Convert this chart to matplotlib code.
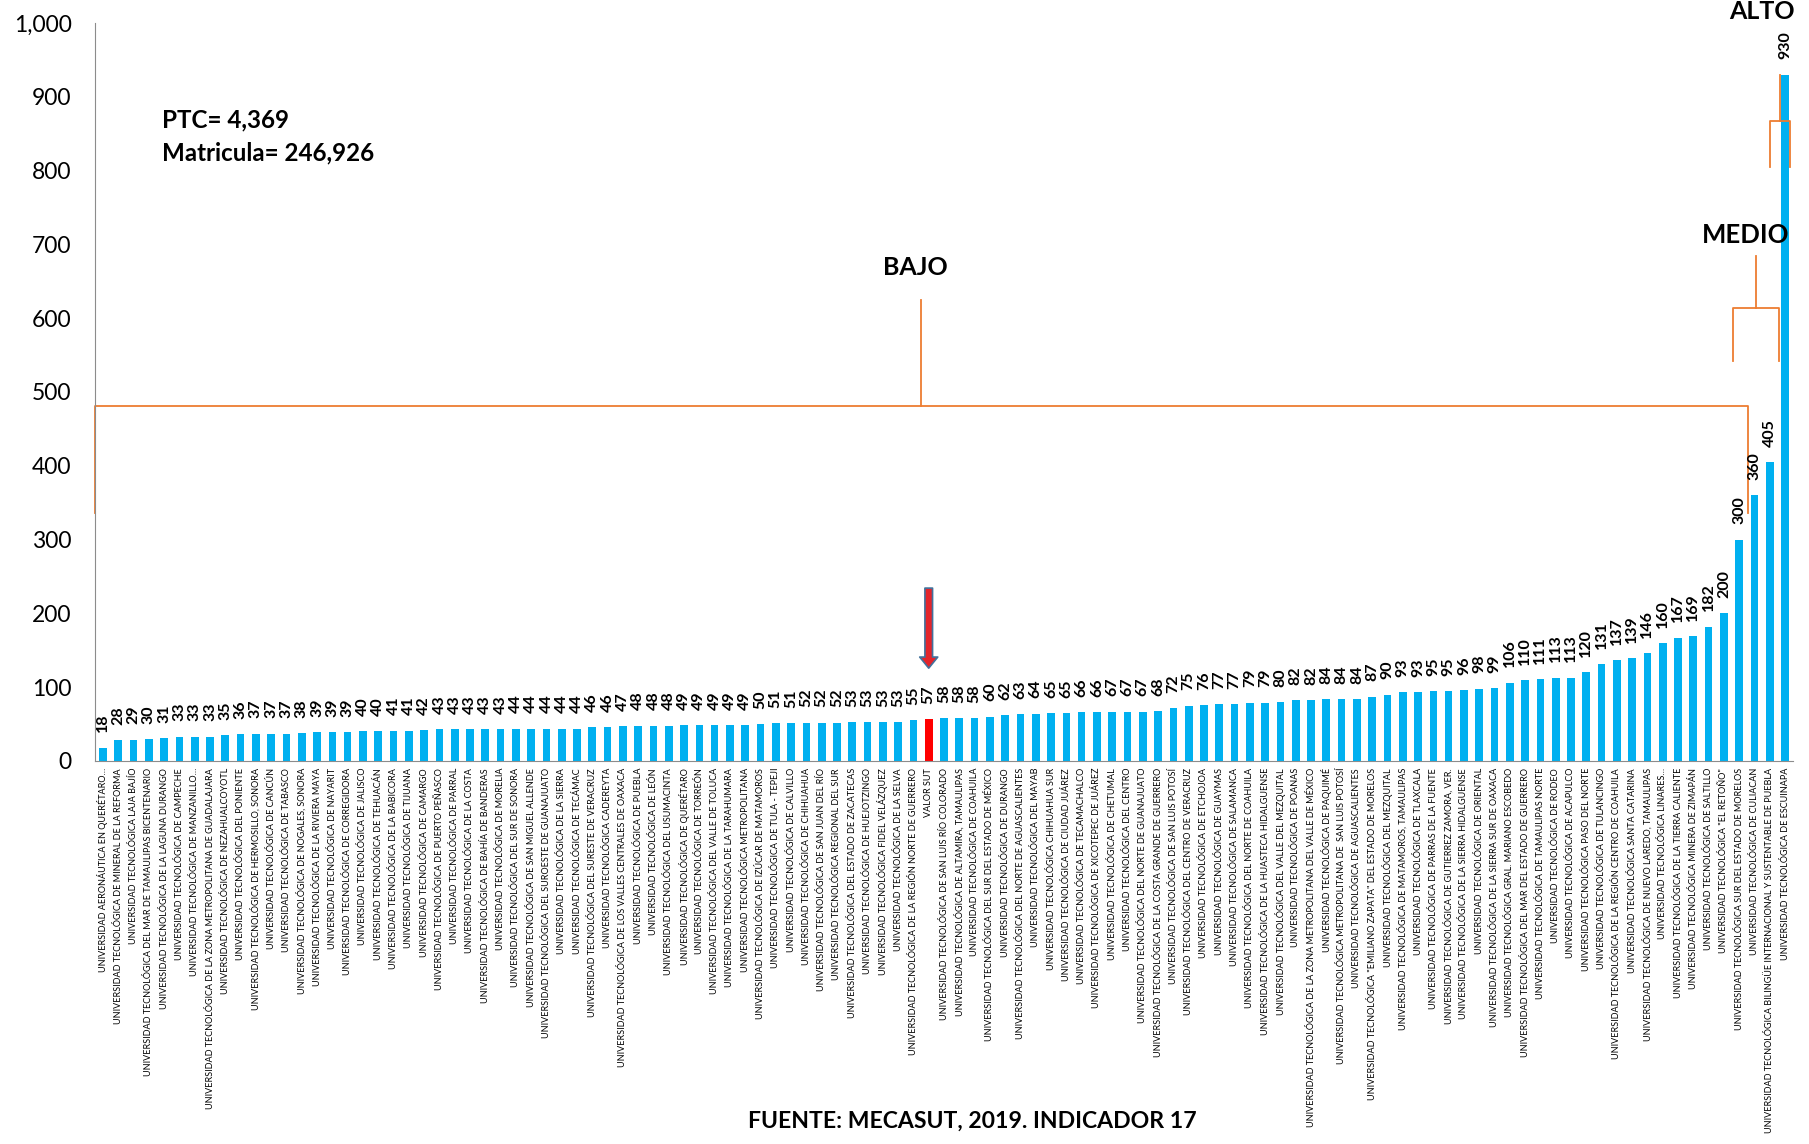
import matplotlib.pyplot as plt
from matplotlib.ticker import FuncFormatter

plt.rcParams['font.family'] = ['Lato', 'DejaVu Sans']

# universidades ordenadas por valor del indicador 17
universidades = [
    "UNIVERSIDAD AERONÁUTICA EN QUERÉTARO…",
    "UNIVERSIDAD TECNOLÓGICA DE MINERAL DE LA REFORMA",
    "UNIVERSIDAD TECNOLÓGICA LAJA BAJÍO",
    "UNIVERSIDAD TECNOLÓGICA DEL MAR DE TAMAULIPAS BICENTENARIO",
    "UNIVERSIDAD TECNOLÓGICA DE LA LAGUNA DURANGO",
    "UNIVERSIDAD TECNOLÓGICA DE CAMPECHE",
    "UNIVERSIDAD TECNOLÓGICA DE MANZANILLO…",
    "UNIVERSIDAD TECNOLÓGICA DE LA ZONA METROPOLITANA DE GUADALAJARA",
    "UNIVERSIDAD TECNOLÓGICA DE NEZAHUALCOYOTL",
    "UNIVERSIDAD TECNOLÓGICA DEL PONIENTE",
    "UNIVERSIDAD TECNOLÓGICA DE HERMOSILLO, SONORA",
    "UNIVERSIDAD TECNOLÓGICA DE CANCÚN",
    "UNIVERSIDAD TECNOLÓGICA DE TABASCO",
    "UNIVERSIDAD TECNOLÓGICA DE NOGALES, SONORA",
    "UNIVERSIDAD TECNOLÓGICA DE LA RIVIERA MAYA",
    "UNIVERSIDAD TECNOLÓGICA DE NAYARIT",
    "UNIVERSIDAD TECNOLÓGICA DE CORREGIDORA",
    "UNIVERSIDAD TECNOLÓGICA DE JALISCO",
    "UNIVERSIDAD TECNOLÓGICA DE TEHUACÁN",
    "UNIVERSIDAD TECNOLÓGICA DE LA BABICORA",
    "UNIVERSIDAD TECNOLÓGICA DE TIJUANA",
    "UNIVERSIDAD TECNOLÓGICA DE CAMARGO",
    "UNIVERSIDAD TECNOLÓGICA DE PUERTO PEÑASCO",
    "UNIVERSIDAD TECNOLÓGICA DE PARRAL",
    "UNIVERSIDAD TECNOLÓGICA DE LA COSTA",
    "UNIVERSIDAD TECNOLÓGICA DE BAHÍA DE BANDERAS",
    "UNIVERSIDAD TECNOLÓGICA DE MORELIA",
    "UNIVERSIDAD TECNOLÓGICA DEL SUR DE SONORA",
    "UNIVERSIDAD TECNOLÓGICA DE SAN MIGUEL ALLENDE",
    "UNIVERSIDAD TECNOLÓGICA DEL SUROESTE DE GUANAJUATO",
    "UNIVERSIDAD TECNOLÓGICA DE LA SIERRA",
    "UNIVERSIDAD TECNOLÓGICA DE TECÁMAC",
    "UNIVERSIDAD TECNOLÓGICA DEL SURESTE DE VERACRUZ",
    "UNIVERSIDAD TECNOLÓGICA CADEREYTA",
    "UNIVERSIDAD TECNOLÓGICA DE LOS VALLES CENTRALES DE OAXACA",
    "UNIVERSIDAD TECNOLÓGICA DE PUEBLA",
    "UNIVERSIDAD TECNOLÓGICA DE LEÓN",
    "UNIVERSIDAD TECNOLÓGICA DEL USUMACINTA",
    "UNIVERSIDAD TECNOLÓGICA DE QUERÉTARO",
    "UNIVERSIDAD TECNOLÓGICA DE TORREÓN",
    "UNIVERSIDAD TECNOLÓGICA DEL VALLE DE TOLUCA",
    "UNIVERSIDAD TECNOLÓGICA DE LA TARAHUMARA",
    "UNIVERSIDAD TECNOLÓGICA METROPOLITANA",
    "UNIVERSIDAD TECNOLÓGICA DE IZÚCAR DE MATAMOROS",
    "UNIVERSIDAD TECNOLÓGICA DE TULA - TEPEJI",
    "UNIVERSIDAD TECNOLÓGICA DE CALVILLO",
    "UNIVERSIDAD TECNOLÓGICA DE CHIHUAHUA",
    "UNIVERSIDAD TECNOLÓGICA DE SAN JUAN DEL RÍO",
    "UNIVERSIDAD TECNOLÓGICA REGIONAL DEL SUR",
    "UNIVERSIDAD TECNOLÓGICA DEL ESTADO DE ZACATECAS",
    "UNIVERSIDAD TECNOLÓGICA DE HUEJOTZINGO",
    "UNIVERSIDAD TECNOLÓGICA FIDEL VELÁZQUEZ",
    "UNIVERSIDAD TECNOLÓGICA DE LA SELVA",
    "UNIVERSIDAD TECNOLÓGICA DE LA REGIÓN NORTE DE GUERRERO",
    "VALOR SUT",
    "UNIVERSIDAD TECNOLÓGICA DE SAN LUIS RÍO COLORADO",
    "UNIVERSIDAD TECNOLÓGICA DE ALTAMIRA, TAMAULIPAS",
    "UNIVERSIDAD TECNOLÓGICA DE COAHUILA",
    "UNIVERSIDAD TECNOLÓGICA DEL SUR DEL ESTADO DE MÉXICO",
    "UNIVERSIDAD TECNOLÓGICA DE DURANGO",
    "UNIVERSIDAD TECNOLÓGICA DEL NORTE DE AGUASCALIENTES",
    "UNIVERSIDAD TECNOLÓGICA DEL MAYAB",
    "UNIVERSIDAD TECNOLÓGICA CHIHUAHUA SUR",
    "UNIVERSIDAD TECNOLÓGICA DE CIUDAD JUÁREZ",
    "UNIVERSIDAD TECNOLÓGICA DE TECAMACHALCO",
    "UNIVERSIDAD TECNOLÓGICA DE XICOTEPEC DE JUÁREZ",
    "UNIVERSIDAD TECNOLÓGICA DE CHETUMAL",
    "UNIVERSIDAD TECNOLÓGICA DEL CENTRO",
    "UNIVERSIDAD TECNOLÓGICA DEL NORTE DE GUANAJUATO",
    "UNIVERSIDAD TECNOLÓGICA DE LA COSTA GRANDE DE GUERRERO",
    "UNIVERSIDAD TECNOLÓGICA DE SAN LUIS POTOSÍ",
    "UNIVERSIDAD TECNOLÓGICA DEL CENTRO DE VERACRUZ",
    "UNIVERSIDAD TECNOLÓGICA DE ETCHOJOA",
    "UNIVERSIDAD TECNOLÓGICA DE GUAYMAS",
    "UNIVERSIDAD TECNOLÓGICA DE SALAMANCA",
    "UNIVERSIDAD TECNOLÓGICA DEL NORTE DE COAHUILA",
    "UNIVERSIDAD TECNOLÓGICA DE LA HUASTECA HIDALGUENSE",
    "UNIVERSIDAD TECNOLÓGICA DEL VALLE DEL MEZQUITAL",
    "UNIVERSIDAD TECNOLÓGICA DE POANAS",
    "UNIVERSIDAD TECNOLÓGICA DE LA ZONA METROPOLITANA DEL VALLE DE MÉXICO",
    "UNIVERSIDAD TECNOLÓGICA DE PAQUIMÉ",
    "UNIVERSIDAD TECNOLÓGICA METROPOLITANA DE  SAN LUIS POTOSÍ",
    "UNIVERSIDAD TECNOLÓGICA DE AGUASCALIENTES",
    "UNIVERSIDAD TECNOLÓGICA \"EMILIANO ZAPATA\" DEL ESTADO DE MORELOS",
    "UNIVERSIDAD TECNOLÓGICA DEL MEZQUITAL",
    "UNIVERSIDAD TECNOLÓGICA DE MATAMOROS, TAMAULIPAS",
    "UNIVERSIDAD TECNOLÓGICA DE TLAXCALA",
    "UNIVERSIDAD TECNOLÓGICA DE PARRAS DE LA FUENTE",
    "UNIVERSIDAD TECNOLÓGICA DE GUTIERREZ ZAMORA, VER.",
    "UNIVERSIDAD TECNOLÓGICA DE LA SIERRA HIDALGUENSE",
    "UNIVERSIDAD TECNOLÓGICA DE ORIENTAL",
    "UNIVERSIDAD TECNOLÓGICA DE LA SIERRA SUR DE OAXACA",
    "UNIVERSIDAD TECNOLÓGICA GRAL. MARIANO ESCOBEDO",
    "UNIVERSIDAD TECNOLÓGICA DEL MAR DEL ESTADO DE GUERRERO",
    "UNIVERSIDAD TECNOLÓGICA DE TAMAULIPAS NORTE",
    "UNIVERSIDAD TECNOLÓGICA DE RODEO",
    "UNIVERSIDAD TECNOLÓGICA DE ACAPULCO",
    "UNIVERSIDAD TECNOLÓGICA PASO DEL NORTE",
    "UNIVERSIDAD TECNOLÓGICA DE TULANCINGO",
    "UNIVERSIDAD TECNOLÓGICA DE LA REGIÓN CENTRO DE COAHUILA",
    "UNIVERSIDAD TECNOLÓGICA SANTA CATARINA",
    "UNIVERSIDAD TECNOLÓGICA DE NUEVO LAREDO, TAMAULIPAS",
    "UNIVERSIDAD TECNOLÓGICA LINARES…",
    "UNIVERSIDAD TECNOLÓGICA DE LA TIERRA CALIENTE",
    "UNIVERSIDAD TECNOLÓGICA MINERA DE ZIMAPÁN",
    "UNIVERSIDAD TECNOLÓGICA DE SALTILLO",
    "UNIVERSIDAD TECNOLÓGICA \"EL RETOÑO\"",
    "UNIVERSIDAD TECNOLÓGICA SUR DEL ESTADO DE MORELOS",
    "UNIVERSIDAD TECNOLÓGICA DE CULIACAN",
    "UNIVERSIDAD TECNOLÓGICA BILINGÜE INTERNACIONAL Y SUSTENTABLE DE PUEBLA",
    "UNIVERSIDAD TECNOLÓGICA DE ESCUINAPA",
]

valores = [18, 28, 29, 30, 31, 33, 33, 33, 35, 36,
           37, 37, 37, 38, 39, 39, 39, 40, 40, 41,
           41, 42, 43, 43, 43, 43, 43, 44, 44, 44,
           44, 44, 46, 46, 47, 48, 48, 48, 49, 49,
           49, 49, 49, 50, 51, 51, 52, 52, 52, 53,
           53, 53, 53, 55, 57, 58, 58, 58, 60, 62,
           63, 64, 65, 65, 66, 66, 67, 67, 67, 68,
           72, 75, 76, 77, 77, 79, 79, 80, 82, 82,
           84, 84, 84, 87, 90, 93, 93, 95, 95, 96,
           98, 99, 106, 110, 111, 113, 113, 120, 131, 137,
           139, 146, 160, 167, 169, 182, 200, 300, 360, 405,
           930]

sut = "VALOR SUT"
azul = '#00B0F0'
rojo = '#FF0000'
naranja = '#ED7D31'

fig = plt.figure(figsize=(18.09, 11.44), dpi=100)
ax = fig.add_axes([0.0527, 0.3348, 0.9383, 0.6452])

x = list(range(len(valores)))
colores = [rojo if u == sut else azul for u in universidades]
ax.bar(x, valores, width=0.5, color=colores)

for i, v in enumerate(valores):
    ax.annotate(str(v), (i, v), xytext=(0, 11), textcoords='offset points',
                rotation=90, ha='center', va='bottom', fontsize=11.5, fontweight='bold')

ax.set_xlim(-0.5, len(valores) - 0.5)
ax.set_ylim(0, 1000)
ax.set_yticks(range(0, 1001, 100))
ax.yaxis.set_major_formatter(FuncFormatter(lambda v, p: f"{int(v):,}"))
ax.tick_params(axis='y', length=0, pad=17, labelsize=16.5)
ax.set_xticks(x)
ax.set_xticklabels(universidades, rotation=90, fontsize=6.5, va='top')
ax.tick_params(axis='x', length=0, pad=5)

for s in ['top', 'right']:
    ax.spines[s].set_visible(False)
ax.spines['left'].set_color('#8c8c8c')
ax.spines['bottom'].set_color('#8c8c8c')

# llaves de clasificacion: (izq, der, centro, y_pie, y_barra, y_tallo)
llaves = [(-0.52, 107.6, 53.5, 336, 481, 625),
          (106.6, 109.6, 108.1, 542, 614, 684),
          (109.0, 110.35, 109.7, 805, 867, 930)]
for iz, de, ce, yp, yb, yt in llaves:
    ax.plot([iz, iz, de, de], [yp, yb, yb, yp], color=naranja, lw=1.3, clip_on=False)
    ax.plot([ce, ce], [yb, yt], color=naranja, lw=1.3, clip_on=False)

ax.text(53.1, 668, "BAJO", ha='center', va='center', fontsize=18, fontweight='bold')
ax.text(107.4, 712, "MEDIO", ha='center', va='center', fontsize=18.5, fontweight='bold')
ax.text(108.5, 1015, "ALTO", ha='center', va='center', fontsize=18, fontweight='bold', clip_on=False)

ax.annotate("", xy=(54, 122), xytext=(54, 238),
            arrowprops=dict(arrowstyle="simple,head_width=1.3,head_length=0.8,tail_width=0.55",
                            fc='#E3242B', ec='#41719C', lw=1.2))

fig.text(0.0893, 0.895, "PTC= 4,369", fontsize=17.4, fontweight='bold', va='center')
fig.text(0.0893, 0.866, "Matricula= 246,926", fontsize=17.4, fontweight='bold', va='center')
fig.text(0.5376, 0.02, "FUENTE: MECASUT, 2019. INDICADOR 17", fontsize=16.6,
         fontweight='bold', ha='center', va='center')

fig.savefig('out.png', dpi=100)
